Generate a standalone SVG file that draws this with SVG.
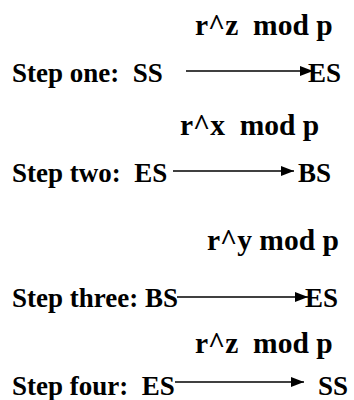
<svg xmlns="http://www.w3.org/2000/svg" width="354" height="400" viewBox="0 0 354 400">
  <style>
    .t { font-family: 'Liberation Serif', serif; font-weight: 700; font-size: 27px; fill: #000; white-space: pre; }
    .lbl { font-family: 'Liberation Serif', serif; font-weight: 700; font-size: 29.5px; fill: #000; white-space: pre; }
    .conn { stroke: #000; stroke-width: 1.6; fill: none; marker-end: url(#arrow); }
  </style>
  <defs>
    <marker id="arrow" markerUnits="userSpaceOnUse" markerWidth="14" markerHeight="10" refX="13" refY="5" orient="auto">
      <path d="M0,0 L13,5 L0,10 Z" fill="#000"/>
    </marker>
  </defs>
  <rect width="354" height="400" fill="#fff"/>

  <!-- step one -->
  <g id="step1">
    <text class="lbl" font-family="'Liberation Serif', serif" x="195" y="35">r^z  mod p</text>
    <text class="t" font-family="'Liberation Serif', serif" x="12" y="82">Step one:  SS</text>
    <text class="t" font-family="'Liberation Serif', serif" x="308" y="82">ES</text>
  </g>
  <!-- step two -->
  <g id="step2">
    <text class="lbl" font-family="'Liberation Serif', serif" x="180" y="135">r^x  mod p</text>
    <text class="t" font-family="'Liberation Serif', serif" x="12" y="182">Step two:  ES</text>
    <text class="t" font-family="'Liberation Serif', serif" x="298" y="182">BS</text>
  </g>
  <!-- step three -->
  <g id="step3">
    <text class="lbl" font-family="'Liberation Serif', serif" x="207" y="250">r^y mod p</text>
    <text class="t" font-family="'Liberation Serif', serif" x="12" y="307">Step three: BS</text>
    <text class="t" font-family="'Liberation Serif', serif" x="305" y="307">ES</text>
  </g>
  <!-- step four -->
  <g id="step4">
    <text class="lbl" font-family="'Liberation Serif', serif" x="195" y="353">r^z  mod p</text>
    <text class="t" font-family="'Liberation Serif', serif" x="12" y="395">Step four:  ES</text>
    <text class="t" font-family="'Liberation Serif', serif" x="318" y="395">SS</text>
  </g>

  <g id="connectors">
    <line class="conn" x1="186" y1="71" x2="313" y2="71"/>
    <line class="conn" x1="173" y1="171" x2="294" y2="171"/>
    <line class="conn" x1="177" y1="297" x2="308" y2="297"/>
    <line class="conn" x1="175" y1="382" x2="304" y2="382"/>
  </g>
</svg>
